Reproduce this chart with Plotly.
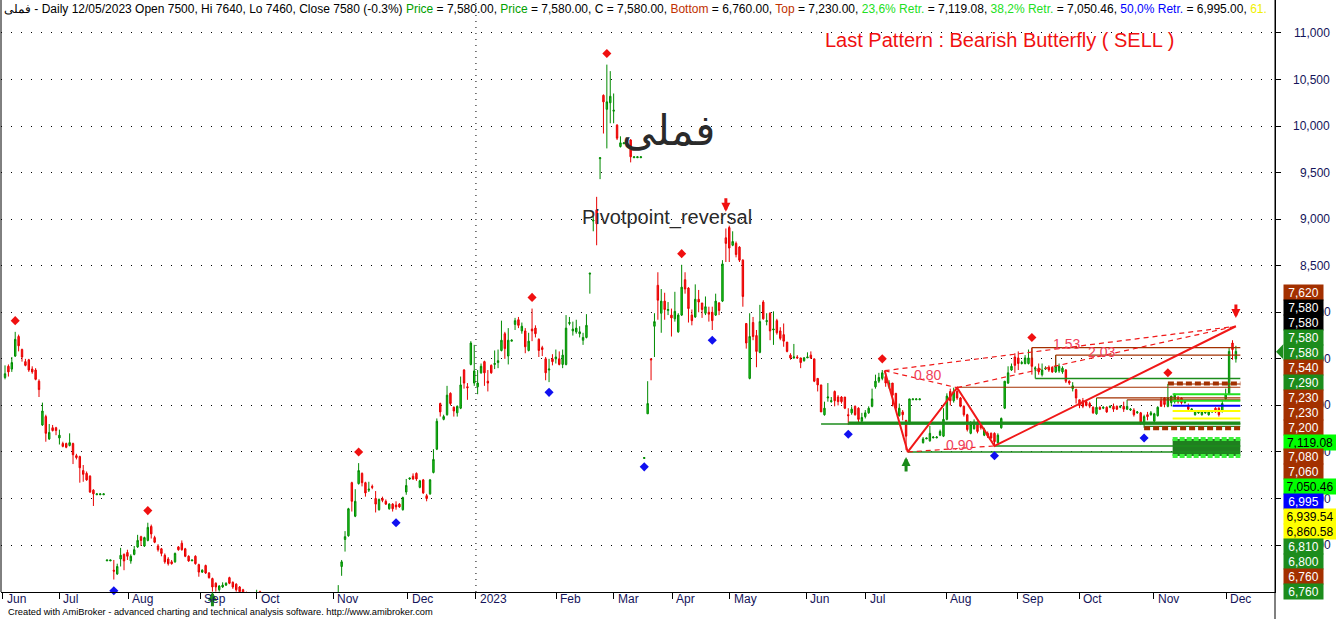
import plotly.graph_objects as go

# ---------------- DATA ----------------
# daily bars, index 0 = first visible session (start of Jun 2022), last = 12/05/2023
opens = [
    7300, 7420, 7390, 7530, 7740, 7600, 7470, 7490, 7390, 7380,
    7260, 6790, 6880, 6640, 6760, 6760, 6650, 6590, 6590, 6570,
    6590, 6460, 6450, 6300, 6270, 6240, 6090, 6040, 6040, 6040,
    5330, 5330, 5230, 5190, 5350, 5400, 5420, 5330, 5400, 5480,
    5590, 5490, 5550, 5700, 5580, 5490, 5460, 5390, 5350, 5320,
    5320, 5480, 5520, 5460, 5380, 5330, 5380, 5290, 5210, 5280,
    5200, 5140, 5090, 5020, 5050, 5070, 5150, 5100, 5080, 5050,
    5020, 4980, 4950, 4900, 4940, 5000, 4950, 4900, 4840, 4850,
    4800, 4760, 4790, 4740, 4720, 4750, 4730, 4680, 4700, 4690,
    4660, 4690, 4710, 4750, 4730, 4780, 4800, 4830, 4880, 5270,
    5560, 5600, 6170, 5810, 6160, 6270, 6170, 6090, 6130, 6000,
    5880, 6000, 5970, 5890, 5940, 5930, 5940, 5880, 6070, 6210,
    6240, 6270, 6120, 6200, 6030, 6050, 6280, 6530, 7020, 6850,
    6900, 7130, 6980, 6920, 6970, 7380, 7200, 7440, 7240, 7200,
    7350, 7470, 7260, 7430, 7440, 7460, 7590, 7770, 7530, 7690,
    7870, 7920, 7800, 7800, 7590, 7820, 7830, 7710, 7620, 7500,
    7380, 7500, 7500, 7500, 7440, 7440, 7880, 7800, 7790, 7770,
    7700, 7730, 8410, 8980, 9100, 9650, 10330, 10180, 10250, 10160,
    10010, 9780, 9810, 9810, 9850, 9660, 9660, 9660, 6430, 6910,
    7500, 7850, 8290, 7990, 8120, 8020, 7970, 7930, 7790, 7970,
    8350, 8260, 7970, 7950, 8140, 8100, 7990, 8000, 8000, 7970,
    8100, 8120, 8800, 8910, 8720, 8740, 8700, 8560, 7880, 7290,
    7890, 7750, 7570, 8110, 7900, 7990, 7810, 7910, 7800, 7760,
    7680, 7540, 7510, 7520, 7510, 7480, 7510, 7540, 7500, 7290,
    7220, 6900, 7080, 7040, 7150, 7090, 7090, 7090, 6900, 6920,
    6990, 6970, 6830, 6880, 6920, 6990, 7200, 7260, 7290, 7310,
    7200, 7240, 7130, 6890, 6930, 6840, 6800, 7060, 7060, 7060,
    6600, 6640, 6620, 6650, 6650, 6680, 6670, 6850, 7150, 7050,
    7150, 7080, 6990, 6900, 6700, 6750, 6810, 6790, 6680, 6700,
    6700, 6700, 6600, 6760, 6970, 7240, 7380, 7520, 7510, 7450,
    7450, 7450, 7510, 7390, 7400, 7330, 7390, 7410, 7410, 7360,
    7370, 7360, 7380, 7260, 7180, 7170, 7060, 7050, 7040, 7020,
    6980, 6910, 6980, 6970, 6980, 6980, 6990, 6990, 6980, 6990,
    6960, 6950, 6950, 6920, 6920, 6800, 6900, 6900, 6830, 6890,
    7050, 7080, 6990, 7030, 7040, 7080, 7080, 7030, 6990, 6950,
    6900, 6920, 6900, 6920, 6900, 6930, 6970, 6970, 6930, 7070,
    7120, 7670, 7500,
]
highs = [
    7430, 7440, 7520, 7790, 7760, 7610, 7500, 7500, 7420, 7400,
    7280, 7030, 6900, 6800, 6790, 6770, 6740, 6610, 6600, 6700,
    6600, 6480, 6460, 6360, 6290, 6250, 6100, 6050, 6050, 6050,
    5340, 5340, 5340, 5300, 5470, 5410, 5450, 5400, 5490, 5610,
    5600, 5590, 5740, 5720, 5600, 5510, 5470, 5410, 5370, 5340,
    5420, 5490, 5550, 5470, 5390, 5340, 5390, 5300, 5240, 5290,
    5210, 5150, 5100, 5070, 5100, 5100, 5160, 5110, 5090, 5060,
    5030, 5000, 4970, 4960, 5020, 5010, 4960, 4910, 4870, 4860,
    4830, 4800, 4800, 4770, 4760, 4780, 4740, 4720, 4730, 4710,
    4700, 4720, 4760, 4780, 4790, 4820, 4850, 4880, 5070, 5340,
    5650, 5900, 6180, 6100, 6380, 6280, 6180, 6180, 6150, 6080,
    6000, 6020, 5990, 5950, 5950, 5970, 5950, 6020, 6210, 6220,
    6270, 6280, 6200, 6210, 6050, 6210, 6530, 6860, 7030, 6900,
    7210, 7140, 6990, 7000, 7310, 7390, 7240, 7690, 7650, 7380,
    7450, 7480, 7380, 7440, 7590, 7600, 7910, 7790, 7830, 7710,
    7940, 7950, 7890, 7830, 7780, 8040, 7860, 7720, 7640, 7520,
    7500, 7550, 7600, 7580, 7600, 7970, 7950, 7900, 7920, 7850,
    7780, 7980, 8420, 9030, 9240, 9660, 10340, 10660, 10590, 10350,
    10020, 9890, 9820, 9820, 9860, 9670, 9670, 9670, 6440, 7260,
    7500, 7990, 8430, 8250, 8210, 8110, 8040, 8220, 7990, 8510,
    8430, 8270, 8030, 8300, 8240, 8100, 8170, 8060, 8060, 8200,
    8110, 8560, 8900, 8930, 8870, 8760, 8710, 8570, 7880, 7990,
    7950, 7810, 8080, 8130, 7990, 8000, 8010, 7930, 7840, 7880,
    7680, 7560, 7660, 7540, 7510, 7520, 7570, 7580, 7500, 7290,
    7220, 7040, 7240, 7090, 7160, 7110, 7100, 7090, 6970, 6990,
    7000, 6980, 6920, 6950, 6990, 7180, 7330, 7350, 7380, 7350,
    7270, 7240, 7130, 7020, 6950, 6840, 7070, 7070, 7070, 7070,
    6660, 6650, 6780, 6670, 6670, 6740, 6970, 7130, 7180, 7190,
    7190, 7090, 7000, 6910, 6830, 6850, 6830, 6800, 6760, 6720,
    6710, 6710, 6700, 6870, 7260, 7420, 7450, 7560, 7580, 7480,
    7540, 7600, 7620, 7420, 7450, 7450, 7420, 7430, 7420, 7540,
    7450, 7420, 7390, 7270, 7250, 7180, 7060, 7080, 7060, 7040,
    6990, 7080, 6990, 6990, 6990, 7000, 7020, 7000, 7000, 7040,
    7060, 6970, 6970, 6940, 6930, 6900, 6930, 6940, 6920, 6990,
    7090, 7090, 7230, 7100, 7130, 7100, 7090, 7050, 7020, 6970,
    6950, 6940, 6940, 6940, 6940, 6950, 6980, 6980, 7060, 7180,
    7620, 7700, 7640,
]
lows = [
    7280, 7310, 7360, 7520, 7580, 7470, 7420, 7360, 7340, 7270,
    7090, 6780, 6610, 6630, 6720, 6680, 6580, 6550, 6540, 6560,
    6370, 6420, 6170, 6180, 6190, 6060, 5920, 6040, 6040, 6040,
    5330, 5330, 5130, 5180, 5270, 5230, 5340, 5300, 5390, 5470,
    5490, 5480, 5540, 5570, 5520, 5430, 5380, 5300, 5280, 5290,
    5310, 5440, 5440, 5370, 5320, 5330, 5290, 5160, 5200, 5190,
    5140, 5000, 5000, 5000, 5040, 5060, 5080, 5030, 5000, 4980,
    4960, 4930, 4880, 4870, 4920, 4940, 4880, 4820, 4800, 4780,
    4750, 4740, 4720, 4700, 4690, 4720, 4660, 4650, 4670, 4640,
    4640, 4670, 4700, 4720, 4720, 4760, 4780, 4820, 4870, 5170,
    5430, 5590, 5860, 5800, 6150, 6130, 6020, 6070, 6100, 5850,
    5870, 5960, 5930, 5880, 5860, 5880, 5900, 5870, 6040, 6200,
    6200, 6190, 6110, 6050, 5970, 6040, 6270, 6520, 6880, 6840,
    6890, 7000, 6880, 6880, 6960, 7180, 7060, 7430, 7210, 7120,
    7340, 7210, 7150, 7340, 7390, 7400, 7580, 7500, 7440, 7690,
    7810, 7830, 7770, 7560, 7580, 7690, 7730, 7520, 7530, 7270,
    7250, 7430, 7450, 7430, 7400, 7430, 7860, 7750, 7770, 7730,
    7650, 7720, 8200, 8870, 8720, 9430, 9920, 9760, 10030, 10030,
    9850, 9770, 9810, 9810, 9610, 9660, 9660, 9660, 6430, 6910,
    7270, 7520, 7920, 7780, 7920, 7970, 7740, 7900, 7780, 7960,
    8200, 7890, 7860, 7940, 8000, 7940, 7970, 7900, 7810, 7960,
    7970, 8110, 8540, 8540, 8710, 8590, 8540, 8060, 7610, 7280,
    7700, 7410, 7560, 7920, 7860, 7700, 7650, 7760, 7700, 7630,
    7570, 7490, 7500, 7500, 7400, 7470, 7510, 7500, 7250, 7150,
    6930, 6890, 7040, 7030, 6990, 7000, 7020, 6960, 6790, 6900,
    6890, 6810, 6810, 6860, 6910, 6980, 7180, 7240, 7270, 7200,
    7180, 6990, 6950, 6880, 6840, 6520, 6800, 7060, 7060, 7060,
    6590, 6640, 6610, 6650, 6650, 6670, 6660, 6840, 7000, 7030,
    7060, 6980, 6880, 6720, 6690, 6740, 6700, 6740, 6670, 6650,
    6640, 6570, 6590, 6750, 6960, 7230, 7370, 7350, 7380, 7440,
    7440, 7440, 7330, 7370, 7330, 7310, 7380, 7360, 7350, 7350,
    7350, 7340, 7240, 7220, 7150, 7020, 6970, 6970, 6990, 6970,
    6910, 6900, 6950, 6960, 6920, 6970, 6930, 6950, 6970, 6930,
    6950, 6940, 6880, 6910, 6790, 6760, 6840, 6890, 6810, 6880,
    6990, 6980, 6980, 6990, 7020, 7020, 7010, 7020, 6940, 6940,
    6890, 6910, 6890, 6910, 6890, 6920, 6920, 6880, 6930, 7060,
    7110, 7490, 7460,
]
closes = [
    7340, 7360, 7460, 7710, 7640, 7520, 7430, 7380, 7360, 7280,
    7170, 6940, 6700, 6710, 6730, 6730, 6680, 6560, 6550, 6600,
    6470, 6440, 6330, 6260, 6200, 6070, 6050, 6050, 6050, 6050,
    5340, 5340, 5220, 5270, 5390, 5330, 5380, 5380, 5450, 5550,
    5550, 5580, 5690, 5620, 5530, 5450, 5410, 5320, 5300, 5300,
    5410, 5450, 5450, 5380, 5330, 5340, 5300, 5210, 5230, 5200,
    5150, 5050, 5050, 5060, 5070, 5090, 5090, 5050, 5020, 5000,
    4980, 4950, 4900, 4940, 4990, 4960, 4900, 4840, 4850, 4800,
    4760, 4790, 4740, 4720, 4750, 4730, 4680, 4700, 4690, 4660,
    4690, 4710, 4750, 4730, 4780, 4800, 4830, 4870, 4990, 5320,
    5590, 5890, 5970, 5970, 6300, 6170, 6060, 6100, 6120, 5940,
    5990, 5980, 5940, 5940, 5890, 5910, 5910, 6010, 6140, 6220,
    6210, 6210, 6190, 6060, 6000, 6200, 6420, 6830, 6930, 6880,
    7110, 7020, 6940, 6990, 7220, 7240, 7190, 7670, 7370, 7240,
    7420, 7350, 7240, 7350, 7450, 7480, 7700, 7610, 7700, 7700,
    7910, 7860, 7850, 7630, 7690, 7800, 7770, 7590, 7600, 7350,
    7390, 7470, 7520, 7440, 7540, 7830, 7890, 7820, 7830, 7790,
    7730, 7860, 8420, 8990, 8950, 9660, 10260, 10260, 10320, 10170,
    9870, 9820, 9820, 9820, 9670, 9670, 9670, 9670, 6440, 7020,
    7490, 7900, 8130, 8120, 8030, 8030, 7940, 8010, 7970, 8270,
    8250, 8040, 7910, 8140, 8110, 8030, 8060, 7980, 7910, 8120,
    8020, 8520, 8740, 8690, 8760, 8620, 8560, 8170, 7670, 7740,
    7740, 7580, 7900, 7930, 7910, 7800, 7820, 7780, 7720, 7690,
    7580, 7510, 7520, 7510, 7460, 7510, 7520, 7510, 7260, 7220,
    6930, 6970, 7090, 7050, 7050, 7040, 7040, 6970, 6890, 6960,
    6900, 6850, 6870, 6920, 6970, 7070, 7260, 7300, 7350, 7240,
    7240, 7110, 6970, 6970, 6900, 6670, 7070, 7070, 7070, 7070,
    6640, 6650, 6700, 6660, 6660, 6720, 6850, 7100, 7050, 7150,
    7080, 6990, 6900, 6740, 6800, 6820, 6720, 6760, 6740, 6670,
    6650, 6610, 6680, 6860, 7260, 7350, 7420, 7430, 7450, 7460,
    7510, 7510, 7420, 7400, 7360, 7380, 7400, 7380, 7360, 7420,
    7420, 7400, 7260, 7240, 7210, 7080, 7000, 6990, 7000, 6990,
    6920, 6980, 6960, 6980, 6930, 6990, 6960, 6960, 6990, 6960,
    6990, 6960, 6900, 6930, 6810, 6880, 6880, 6920, 6910, 6980,
    6990, 7010, 7080, 7100, 7110, 7040, 7030, 7040, 6960, 6960,
    6940, 6930, 6930, 6930, 6930, 6940, 6930, 6900, 7020, 7120,
    7580, 7600, 7580,
]
assert len(opens) == len(highs) == len(lows) == len(closes) == 363

# month boundaries (in bar units) and their labels
month_tick_pos = [-0.6, 15.9, 36.2, 57.4, 74.1, 96.5, 118.5, 138.5, 162.1, 179.1,
                  196.2, 213.2, 235.6, 253.2, 276.8, 297.9, 315.9, 337.9, 359.1]
month_tick_text = ["Jun", "Jul", "Aug", "Sep", "Oct", "Nov", "Dec", "2023", "Feb", "Mar",
                   "Apr", "May", "Jun", "Jul", "Aug", "Sep", "Oct", "Nov", "Dec"]
year_break_pos = 138.5

price_ticks = [5500, 6000, 6500, 7000, 7500, 8000, 8500, 9000, 9500, 10000, 10500, 11000]
price_tick_text = ["5,500", "6,000", "6,500", "7,000", "7,500", "8,000", "8,500",
                   "9,000", "9,500", "10,000", "10,500", "11,000"]

# pivot markers
pivot_high_idx = [3, 42, 104, 155, 177, 199, 258, 302, 342]
pivot_high_val = [7910, 5870, 6500, 8160, 10780, 8630, 7500, 7730, 7350]
pivot_low_idx = [32, 115, 160, 188, 208, 248, 291, 335]
pivot_low_val = [5010, 5740, 7140, 6340, 7700, 6690, 6460, 6650]

# buy / sell arrows (tip positions)
buy_arrow_idx = [61, 265]
buy_arrow_val = [5000, 6446]
sell_arrow_idx = [212, 362]
sell_arrow_val = [9080, 7940]

# bearish butterfly X-A-B-C-D
pattern_idx = [258.7, 265.5, 280, 291, 362]
pattern_val = [7373, 6500, 7190, 6565, 7850]
ratio_text = ["0.80", "0.90", "1.53", "2.03"]
ratio_idx = [271.2, 280.6, 312.3, 322.5]
ratio_val = [7330, 6570, 7660, 7574]

# horizontal support / resistance levels: start bar, price
level_start = [240, 248, 335, 335, 291, 265.5, 280, 302, 309, 303, 321, 330, 342, 342]
level_val = [6800, 6810, 6775, 6755, 6565, 6500, 7195, 7620, 7540, 7290, 7080, 7060, 7230, 7236]
level_end = 363.3
# step connectors of some levels: bar, from price, to price
step_idx = [302, 309, 303]
step_from = [7490, 7420, 7410]
step_to = [7620, 7540, 7290]

# fibonacci retracements of the last swing (Top 7230 / Bottom 6760)
fib_start = 343.4
fib_vals = [7119.08, 7050.46, 6995.00, 6939.54, 6860.58]
prz_low, prz_high = 6457, 6640

# value tags on the right price axis (top to bottom)
tag_text = ["7,620", "7,580", "7,580", "7,580", "7,580", "7,540", "7,290", "7,230", "7,230",
            "7,200", "7,119.08", "7,080", "7,060", "7,050.46", "6,995", "6,939.54",
            "6,860.58", "6,810", "6,800", "6,760", "6,760"]

# ---------------- STYLE ----------------
BROWN = "#a33000"
GREEN = "#1c8c1c"
LIME = "#22e022"
tag_bg = [BROWN, "#000000", "#000000", GREEN, GREEN, BROWN, GREEN, BROWN, BROWN, BROWN,
          "#00ff00", BROWN, BROWN, "#00ff00", "#0000ff", "#ffff00", "#ffff00",
          GREEN, GREEN, BROWN, GREEN]
tag_fg = ["white"] * 10 + ["black", "white", "white", "black", "white", "black", "black",
                           "white", "white", "white", "white"]
level_color = [GREEN, GREEN, GREEN, BROWN, GREEN, GREEN, BROWN, BROWN, BROWN, GREEN,
               BROWN, BROWN, BROWN, BROWN]
level_width = [1.5, 3, 1.2, 4, 1.5, 1.5, 1.2, 1.2, 1.2, 1.5, 1.2, 1.2, 1.2, 4]
level_dash = ["solid", "solid", "solid", "6px,3px", "solid", "solid", "solid", "solid",
              "solid", "solid", "solid", "solid", "solid", "6px,3px"]
step_color = [BROWN, BROWN, GREEN]
fib_color = [LIME, LIME, "#0000ff", "#ffff00", "#ffff00"]

W, H = 1336, 619
PL, PR, PT, PB = 1, 1275, 0, 592
TAG_TOP = 285.2  # pixel row where the stack of value tags starts


def px_x(px):
    return (px - PL) / (PR - PL)


def px_y(py):
    return 1 - (py - PT) / (PB - PT)


def price_to_px(p):
    return 33 + (11000 - p) * 0.0931


FONT = "Liberation Sans, Arial, sans-serif"

fig = go.Figure()
x_idx = list(range(len(opens)))
fig.add_trace(go.Candlestick(
    x=x_idx, open=opens, high=highs, low=lows, close=closes,
    increasing=dict(line=dict(color="#008a00", width=1), fillcolor="#22d022"),
    decreasing=dict(line=dict(color="#e80000", width=1), fillcolor="#ff1818"),
    whiskerwidth=0, hoverinfo="skip", showlegend=False))

# PRZ box
fig.add_trace(go.Scatter(
    x=[fib_start, level_end, level_end, fib_start, fib_start],
    y=[prz_low, prz_low, prz_high, prz_high, prz_low],
    fill="toself", fillcolor="#1f7f1f", mode="lines", line=dict(width=0),
    hoverinfo="skip", showlegend=False))
for v in (prz_low, prz_high):
    fig.add_trace(go.Scatter(x=[fib_start, level_end], y=[v, v], mode="lines",
                             line=dict(color="#3cf03c", width=4, dash="5px,2px"),
                             hoverinfo="skip", showlegend=False))

# levels
for s, v, c, w, d in zip(level_start, level_val, level_color, level_width, level_dash):
    fig.add_trace(go.Scatter(x=[s, level_end], y=[v, v], mode="lines",
                             line=dict(color=c, width=w, dash=d),
                             hoverinfo="skip", showlegend=False))
for s, a, b, c in zip(step_idx, step_from, step_to, step_color):
    fig.add_trace(go.Scatter(x=[s, s], y=[a, b], mode="lines",
                             line=dict(color=c, width=1.2),
                             hoverinfo="skip", showlegend=False))
for v, c in zip(fib_vals, fib_color):
    fig.add_trace(go.Scatter(x=[fib_start, level_end], y=[v, v], mode="lines",
                             line=dict(color=c, width=2),
                             hoverinfo="skip", showlegend=False))

# butterfly pattern
RED = "#f01818"
fig.add_trace(go.Scatter(x=pattern_idx, y=pattern_val, mode="lines",
                         line=dict(color=RED, width=2), hoverinfo="skip", showlegend=False))
for a, b in ((0, 2), (1, 3), (0, 4), (2, 4)):
    fig.add_trace(go.Scatter(x=[pattern_idx[a], pattern_idx[b]],
                             y=[pattern_val[a], pattern_val[b]], mode="lines",
                             line=dict(color=RED, width=1.2, dash="5px,4px"),
                             hoverinfo="skip", showlegend=False))

# pivots
fig.add_trace(go.Scatter(x=pivot_high_idx, y=pivot_high_val, mode="markers",
                         marker=dict(symbol="diamond", size=7, color="#f01010"),
                         cliponaxis=False, hoverinfo="skip", showlegend=False))
fig.add_trace(go.Scatter(x=pivot_low_idx, y=pivot_low_val, mode="markers",
                         marker=dict(symbol="diamond", size=7, color="#1010f0"),
                         cliponaxis=False, hoverinfo="skip", showlegend=False))

annotations = []
for i, v in zip(buy_arrow_idx, buy_arrow_val):
    annotations.append(dict(x=i, y=v, xref="x", yref="y", text="", showarrow=True,
                            ax=0, ay=16, arrowhead=2, arrowsize=0.6, arrowwidth=3,
                            arrowcolor="#1a8a1a", standoff=0))
for i, v in zip(sell_arrow_idx, sell_arrow_val):
    annotations.append(dict(x=i, y=v, xref="x", yref="y", text="", showarrow=True,
                            ax=0, ay=-15, arrowhead=2, arrowsize=0.6, arrowwidth=3,
                            arrowcolor="#f01010", standoff=0))
for t, i, v in zip(ratio_text, ratio_idx, ratio_val):
    annotations.append(dict(x=i, y=v, xref="x", yref="y", text=t, showarrow=False,
                            font=dict(family=FONT, size=14, color="#f0405a")))

# y tick labels (right aligned); the ones sitting behind the tag stack only show
# their right-most few pixels, as in the original
for v, t in zip(price_ticks, price_tick_text):
    behind_tags = price_to_px(v) > TAG_TOP
    ann = dict(x=px_x(1332), y=v, xref="paper", yref="y", text=t,
               xanchor="right", yanchor="middle", showarrow=False,
               font=dict(family=FONT, size=12, color="#14145a"))
    if behind_tags:
        ann.update(width=9, align="right", borderpad=0, xshift=0)
    annotations.append(ann)
# month labels
for p, t in zip(month_tick_pos, month_tick_text):
    annotations.append(dict(x=p, y=px_y(598.5), xref="x", yref="paper", text=t,
                            xanchor="left", yanchor="middle", xshift=2, showarrow=False,
                            font=dict(family=FONT, size=12, color="#14145a")))
# value tags
for k, (t, bg, fg) in enumerate(zip(tag_text, tag_bg, tag_fg)):
    yc = 292.7 + 14.93 * k
    annotations.append(dict(x=px_x(1283), y=px_y(yc), xref="paper", yref="paper",
                            text=t, xanchor="left", yanchor="middle", showarrow=False,
                            width=52 if "." in t else 39, height=15, borderpad=0,
                            bgcolor=bg, align="center", valign="middle",
                            font=dict(family=FONT, size=12, color=fg)))

header = ("فملی - Daily 12/05/2023 Open 7500, Hi 7640, Lo 7460, Close 7580 (-0.3%) "
          "<span style='color:#00a000'>Price</span> = 7,580.00, "
          "<span style='color:#00a000'>Price</span> = 7,580.00, C = 7,580.00, "
          "<span style='color:#c03000'>Bottom</span> = 6,760.00, "
          "<span style='color:#c03000'>Top</span> = 7,230.00, "
          "<span style='color:#22e022'>23,6% Retr.</span> = 7,119.08, "
          "<span style='color:#22e022'>38,2% Retr.</span> = 7,050.46, "
          "<span style='color:#0000ff'>50,0% Retr.</span> = 6,995.00, "
          "<span style='color:#f0f000'>61.</span>")
annotations.append(dict(x=px_x(2), y=px_y(9), xref="paper", yref="paper", text=header,
                        xanchor="left", yanchor="middle", showarrow=False,
                        font=dict(family=FONT, size=12, color="black")))
annotations.append(dict(x=px_x(668), y=px_y(130), xref="paper", yref="paper",
                        text="فملی", showarrow=False, xanchor="center", yanchor="middle",
                        font=dict(family="DejaVu Sans", size=42, color="#2a2a2a")))
annotations.append(dict(x=px_x(667), y=px_y(217), xref="paper", yref="paper",
                        text="Pivotpoint_reversal", showarrow=False,
                        xanchor="center", yanchor="middle",
                        font=dict(family=FONT, size=20, color="#2a2a2a")))
annotations.append(dict(x=px_x(999), y=px_y(40), xref="paper", yref="paper",
                        text="Last Pattern : Bearish Butterfly ( SELL )", showarrow=False,
                        xanchor="center", yanchor="middle",
                        font=dict(family=FONT, size=20, color="#f01010")))
annotations.append(dict(x=px_x(6), y=px_y(612), xref="paper", yref="paper",
                        text="Created with AmiBroker - advanced charting and technical analysis software. http://www.amibroker.com",
                        showarrow=False, xanchor="left", yanchor="middle",
                        font=dict(family=FONT, size=9.3, color="black")))

shapes = [
    dict(type="line", xref="paper", yref="paper", x0=1, x1=1, y0=px_y(H), y1=1,
         line=dict(color="black", width=1)),
    dict(type="line", xref="paper", yref="paper", x0=0, x1=0, y0=0, y1=1,
         line=dict(color="black", width=1)),
    dict(type="line", xref="x", yref="paper", x0=year_break_pos, x1=year_break_pos,
         y0=0, y1=1, line=dict(color="black", width=1, dash="1px,5px")),
    dict(type="path", xref="paper", yref="paper",
         path=f"M {px_x(1276)} {px_y(351.7)} L {px_x(1283)} {px_y(344.5)} "
              f"L {px_x(1283)} {px_y(359)} Z",
         fillcolor=GREEN, line=dict(width=0)),
]

fig.update_layout(
    width=W, height=H, margin=dict(l=PL, r=W - PR, t=PT, b=H - PB, autoexpand=False),
    paper_bgcolor="white", plot_bgcolor="white", showlegend=False,
    boxgap=0.4,
    xaxis=dict(range=[-1.18, 373.5], showgrid=False, zeroline=False, showline=True,
               linecolor="black", linewidth=1, ticks="outside", ticklen=6,
               tickcolor="black", tickvals=month_tick_pos, showticklabels=False,
               rangeslider=dict(visible=False), fixedrange=True),
    yaxis=dict(range=[4996, 11354], side="right", showgrid=True, gridcolor="black",
               griddash="1px,9px", gridwidth=1, zeroline=False, showline=True,
               linecolor="black", linewidth=1, ticks="outside", ticklen=5,
               tickcolor="black", tickvals=price_ticks, showticklabels=False,
               fixedrange=True),
    annotations=annotations, shapes=shapes,
)

# the page body has a default 8px margin; remove it so the figure sits at the window's corner
fig.write_html("out.html",
               config={"displayModeBar": False},
               post_script="document.body.style.margin='0px';"
                           "document.body.style.padding='0px';"
                           "document.documentElement.style.overflow='hidden';"
                           "document.body.style.overflow='hidden';")
